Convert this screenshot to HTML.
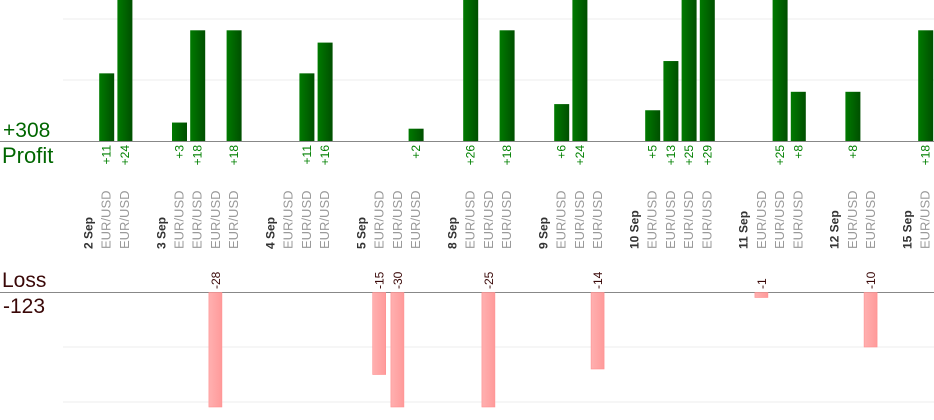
<!DOCTYPE html>
<html><head><meta charset="utf-8"><style>
html,body{margin:0;padding:0;background:#fff;}
svg{display:block;font-family:"Liberation Sans",sans-serif;}
</style></head><body>
<svg id="c" width="934" height="420">
<defs>
<linearGradient id="gp" x1="0" x2="1"><stop offset="0" stop-color="#007a00"/><stop offset="1" stop-color="#004f00"/></linearGradient>
<linearGradient id="gl" x1="0" x2="1"><stop offset="0" stop-color="#ffb0b0"/><stop offset="1" stop-color="#ff9a9a"/></linearGradient>
</defs>
<line x1="63" x2="934" y1="19" y2="19" stroke="#eee"/>
<line x1="63" x2="934" y1="80" y2="80" stroke="#eee"/>
<line x1="63" x2="934" y1="347" y2="347" stroke="#eee"/>
<line x1="63" x2="934" y1="402" y2="402" stroke="#eee"/>
<line x1="0" x2="934" y1="141.5" y2="141.5" stroke="#888"/>
<line x1="0" x2="934" y1="292.5" y2="292.5" stroke="#888"/>
<text x="3" y="137" font-size="21" fill="#006600">+308</text>
<text x="2" y="163" font-size="22" fill="#006600">Profit</text>
<text x="2" y="287" font-size="21" fill="#3a0808">Loss</text>
<text x="3" y="313" font-size="21" fill="#3a0808">-123</text>
<g id="marks"></g>
</svg>
<script>
// slot labels: 'D:' prefix is a date header, '' is a gap slot
const slots = ['D:2 Sep','EUR/USD','EUR/USD','','D:3 Sep','EUR/USD','EUR/USD','EUR/USD','EUR/USD','','D:4 Sep','EUR/USD','EUR/USD','EUR/USD','','D:5 Sep','EUR/USD','EUR/USD','EUR/USD','','D:8 Sep','EUR/USD','EUR/USD','EUR/USD','','D:9 Sep','EUR/USD','EUR/USD','EUR/USD','','D:10 Sep','EUR/USD','EUR/USD','EUR/USD','EUR/USD','','D:11 Sep','EUR/USD','EUR/USD','EUR/USD','','D:12 Sep','EUR/USD','EUR/USD','','D:15 Sep','EUR/USD'];
const values = [null,11,24,null,null,3,18,-28,18,null,null,0,11,16,null,null,-15,-30,2,null,null,26,-25,18,null,null,6,24,-14,null,null,5,13,25,29,null,null,-1,25,8,null,null,8,-10,null,null,18];
const NS='http://www.w3.org/2000/svg';
const g=document.getElementById('marks');
const x0=88, step=18.2, pBase=141, pScale=6.15, lBase=292, lScale=5.5;
function xs(i){return x0+step*i;}
function py(v){return Math.max(0,pBase-v*pScale);}
function ly(v){return Math.min(407,lBase+v*lScale);}
function mk(t,a){const e=document.createElementNS(NS,t);for(const k in a)e.setAttribute(k,a[k]);g.appendChild(e);return e;}
slots.forEach((s,i)=>{
  if(!s)return;
  const x=xs(i);
  const isDate=s.startsWith('D:');
  const lab=mk('text',{x:0,y:0,transform:`translate(${x+4.5},249) rotate(-90)`,'font-size':isDate?12:13,'font-weight':isDate?'bold':'normal',fill:isDate?'#333':'#999'});
  
  
  lab.textContent=isDate?s.slice(2):s;
  const v=values[i];
  if(v===null||v===0)return;
  if(v>0){
    const top=py(v);
    const r=mk('rect',{x:x-7,y:top,width:15,height:pBase-top,fill:'url(#gp)'});
    
    
    const t=mk('text',{x:0,y:0,transform:`translate(${x+4.5},145) rotate(-90)`,'text-anchor':'end','font-size':12,fill:'#008000'});
    
    
    t.textContent='+'+v;
  }else{
    const bot=ly(-v);
    const r=mk('rect',{x:x-6.5,y:lBase+0.5,width:13,height:bot-lBase-0.5,fill:'url(#gl)',stroke:'#ff9090','stroke-width':0.6});
    
    
    const t=mk('text',{x:0,y:0,transform:`translate(${x+4.5},289) rotate(-90)`,'font-size':12,fill:'#3a0808'});
    
    
    t.textContent=String(v);
  }
});
</script>
</body></html>
